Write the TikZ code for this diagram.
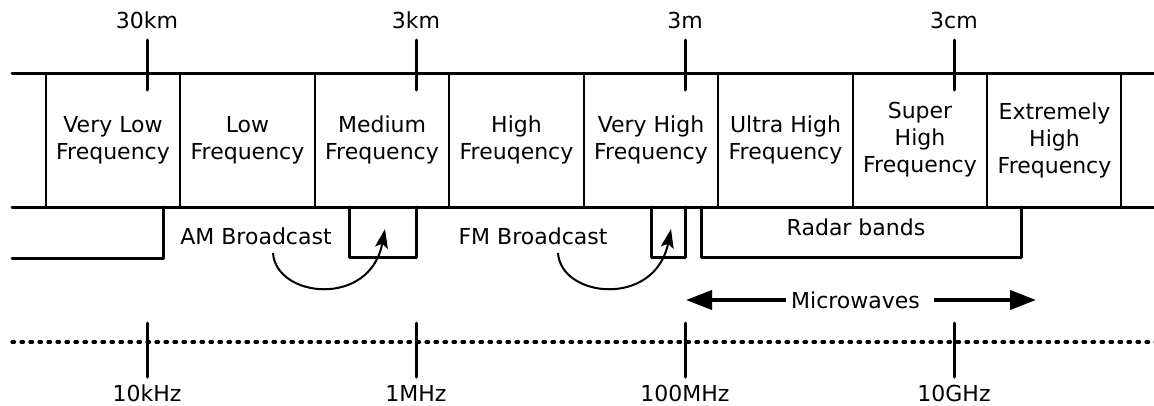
\documentclass[tikz,border=0pt]{standalone}
\usepackage{fontspec}
\setmainfont{DejaVu Sans}
\usetikzlibrary{arrows.meta}
\begin{document}
\begin{tikzpicture}[x=1pt,y=-1pt,
  txt/.style={font=\fontsize{22}{27}\selectfont, inner sep=0pt, align=center},
  rail/.style={line width=3pt, line cap=round},
  divider/.style={line width=2.2pt},
  tickmark/.style={line width=3pt, line cap=round},
  bracketline/.style={line width=3pt, line join=round, line cap=round},
  curvearrow/.style={line width=2pt, -{Stealth[length=19pt,width=13pt,inset=4pt]}},
  bigarrow/.style={line width=4pt, -{Triangle[length=26pt,width=19pt]}},
  dotline/.style={line width=3.2pt, line cap=round, dash pattern=on 2.5pt off 6.5pt}]
\useasboundingbox (0,0) rectangle (1154,405);
% rails
\coordinate (tl) at (12,73); \coordinate (tr) at (1160,73);
\coordinate (bl) at (12,207); \coordinate (br) at (1160,207);
\draw[rail] (tl) -- (tr);
\draw[rail] (bl) -- (br);
% dividers
\foreach \x/\n in {46/d0,180/d1,315/d2,449/d3,584/d4,718/d5,853/d6,987/d7,1121/d8}{
  \coordinate (\n t) at (\x,73); \coordinate (\n b) at (\x,207);
  \draw[divider] (\n t) -- (\n b);
}
% band labels
\node[txt] (vlf) at (113,140) {Very Low\\Frequency};
\node[txt] (lf) at (247.5,140) {Low\\Frequency};
\node[txt] (mf) at (382,140) {Medium\\Frequency};
\node[txt] (hf) at (516.5,140) {High\\Freuqency};
\node[txt] (vhf) at (651,140) {Very High\\Frequency};
\node[txt] (uhf) at (785.5,140) {Ultra High\\Frequency};
\node[txt] (shf) at (920,140) {Super\\High\\Frequency};
\node[txt] (ehf) at (1054.5,140) {Extremely\\High\\Frequency};
% top ticks and wavelength labels
\foreach \x/\n/\l in {147/w1/30km,416/w2/3km,685/w3/3m,954/w4/3cm}{
  \coordinate (\n a) at (\x,40); \coordinate (\n b) at (\x,90);
  \draw[tickmark] (\n a) -- (\n b);
  \node[txt] (\n) at (\x,20) {\l};
}
% brackets
\coordinate (lb1) at (12,258); \coordinate (lb2) at (163,258); \coordinate (lb3) at (163,207);
\draw[bracketline] (lb1) -- (lb2) -- (lb3);
\coordinate (am1) at (349,207); \coordinate (am2) at (349,257); \coordinate (am3) at (416,257); \coordinate (am4) at (416,207);
\draw[bracketline] (am1) -- (am2) -- (am3) -- (am4);
\coordinate (fm1) at (651,207); \coordinate (fm2) at (651,257); \coordinate (fm3) at (685,257); \coordinate (fm4) at (685,207);
\draw[bracketline] (fm1) -- (fm2) -- (fm3) -- (fm4);
\coordinate (rd1) at (701,207); \coordinate (rd2) at (701,257); \coordinate (rd3) at (1021,257); \coordinate (rd4) at (1021,207);
\draw[bracketline] (rd1) -- (rd2) -- (rd3) -- (rd4);
% bracket labels
\node[txt] (am) at (256,236) {AM Broadcast};
\node[txt] (fm) at (533,236) {FM Broadcast};
\node[txt] (radar) at (856,227) {Radar bands};
% curved arrows
\coordinate (ams) at (273,253); \coordinate (amt) at (385,229);
\draw[curvearrow] (ams) .. controls (276,298) and (370,308) .. (amt);
\coordinate (fms) at (558,253); \coordinate (fmt) at (671,229);
\draw[curvearrow] (fms) .. controls (561,298) and (655,308) .. (fmt);
% microwaves
\node[txt, inner xsep=0pt] (mw) at (855.5,300) {Microwaves};
\coordinate (mwl) at (686,300); \coordinate (mwr) at (1036,300);
\coordinate (mwa) at (786,300); \coordinate (mwb) at (934,300);
\draw[bigarrow] (mwa) -- (mwl);
\draw[bigarrow] (mwb) -- (mwr);
% frequency axis
\coordinate (fl) at (12,342); \coordinate (fr) at (1160,342);
\draw[dotline] (fl) -- (fr);
\foreach \x/\n/\l in {147/f1/10kHz,416/f2/1MHz,685/f3/100MHz,954/f4/10GHz}{
  \coordinate (\n a) at (\x,323); \coordinate (\n b) at (\x,377);
  \draw[tickmark] (\n a) -- (\n b);
  \node[txt] (\n) at (\x,393) {\l};
}
\end{tikzpicture}
\end{document}
